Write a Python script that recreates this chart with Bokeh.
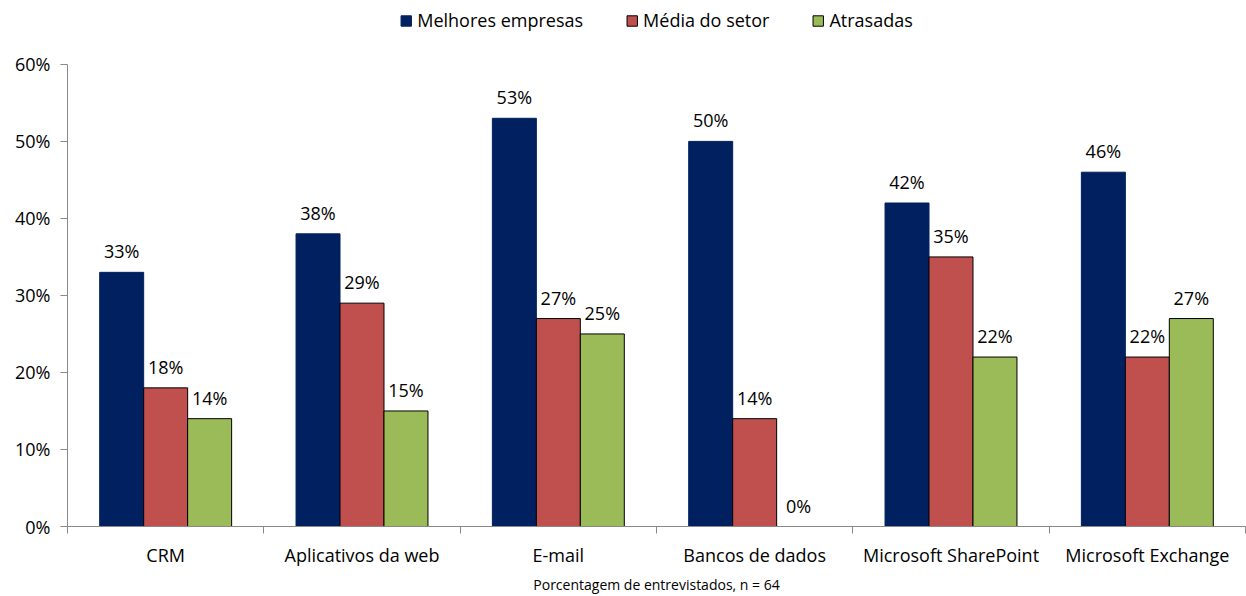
import numpy as np
from bokeh.plotting import figure
from bokeh.models import (Range1d, LinearAxis, FixedTicker, CustomJSTickFormatter,
                          PrintfTickFormatter, Legend, LegendItem, ColumnDataSource)
from bokeh.core.properties import value
from bokeh.embed import file_html
from bokeh.resources import INLINE

categories = ["CRM", "Aplicativos da web", "E-mail", "Bancos de dados",
              "Microsoft SharePoint", "Microsoft Exchange"]
series_names = ["Melhores empresas", "Média do setor", "Atrasadas"]
melhores = [33, 38, 53, 50, 42, 46]
media = [18, 29, 27, 14, 35, 22]
atrasadas = [14, 15, 25, 0, 22, 27]
y_ticks = [0, 10, 20, 30, 40, 50, 60]
x_title = "Porcentagem de entrevistados, n = 64"

FONT = "Open Sans"
colors = ["#002060", "#C0504D", "#9BBB59"]
outlines = ["#002060", "#000000", "#000000"]
bar_w = 0.224
offsets = [-bar_w, 0.0, bar_w]
series = [melhores, media, atrasadas]

# frame spans the full height; axis line limited to 0-60 so that the legend fits above
ymax = y_ticks[-1] * 527.0 / 463.0

p = figure(width=1246, height=596, output_backend="svg", toolbar_location=None,
           x_range=Range1d(0, len(categories)), y_range=Range1d(0, ymax),
           min_border_left=67, min_border_right=1, min_border_top=0, min_border_bottom=69,
           x_axis_type=None, y_axis_type=None)
p.outline_line_color = None
p.xgrid.grid_line_color = None
p.ygrid.grid_line_color = None
p.background_fill_color = "white"
p.border_fill_color = "white"

centers = np.arange(len(categories)) + 0.5
items = []
for name, vals, col, lc, off in zip(series_names, series, colors, outlines, offsets):
    src = ColumnDataSource(dict(x=centers + off, top=vals,
                                lab=[f"{v}%" for v in vals]))
    r = p.vbar(x="x", top="top", width=bar_w, source=src, fill_color=col,
               line_color=lc, line_width=1)
    p.text(x="x", y="top", text="lab", source=src, text_align="center",
           text_baseline="middle", y_offset=-21, text_font=value(FONT),
           text_font_size="18px", text_color="black")
    items.append(LegendItem(label=name, renderers=[r]))

axis_col = "#898989"
yaxis = LinearAxis(ticker=FixedTicker(ticks=y_ticks),
                   formatter=PrintfTickFormatter(format="%d%%"),
                   bounds=(y_ticks[0], y_ticks[-1]))
yaxis.axis_line_color = axis_col
yaxis.major_tick_line_color = axis_col
yaxis.major_tick_out = 7
yaxis.major_tick_in = 0
yaxis.minor_tick_line_color = None
yaxis.major_label_text_font = FONT
yaxis.major_label_text_font_size = "18px"
yaxis.major_label_text_color = "black"
yaxis.major_label_standoff = 10
p.add_layout(yaxis, "left")

xaxis = LinearAxis(ticker=FixedTicker(ticks=list(centers),
                                      minor_ticks=list(range(len(categories) + 1))),
                   formatter=CustomJSTickFormatter(args=dict(cats=categories),
                                                   code="return cats[Math.floor(tick)] || '';"))
xaxis.axis_line_color = axis_col
xaxis.major_tick_line_color = None
xaxis.major_tick_out = 0
xaxis.major_tick_in = 0
xaxis.minor_tick_line_color = axis_col
xaxis.minor_tick_out = 7
xaxis.minor_tick_in = 0
xaxis.major_label_text_font = FONT
xaxis.major_label_text_font_size = "18px"
xaxis.major_label_text_color = "black"
xaxis.major_label_standoff = 9
xaxis.axis_label = x_title
xaxis.axis_label_text_font = FONT
xaxis.axis_label_text_font_size = "14px"
xaxis.axis_label_text_font_style = "normal"
xaxis.axis_label_text_color = "black"
xaxis.axis_label_standoff = 5
p.add_layout(xaxis, "below")

legend = Legend(items=items, orientation="horizontal", location="top_center",
                label_text_font=FONT, label_text_font_size="18px",
                label_text_color="black",
                glyph_width=13, glyph_height=13, label_standoff=5, spacing=42,
                padding=0, margin=8, border_line_color=None,
                background_fill_alpha=0)
p.add_layout(legend, "center")

open("out.html", "w").write(file_html(p, INLINE))
